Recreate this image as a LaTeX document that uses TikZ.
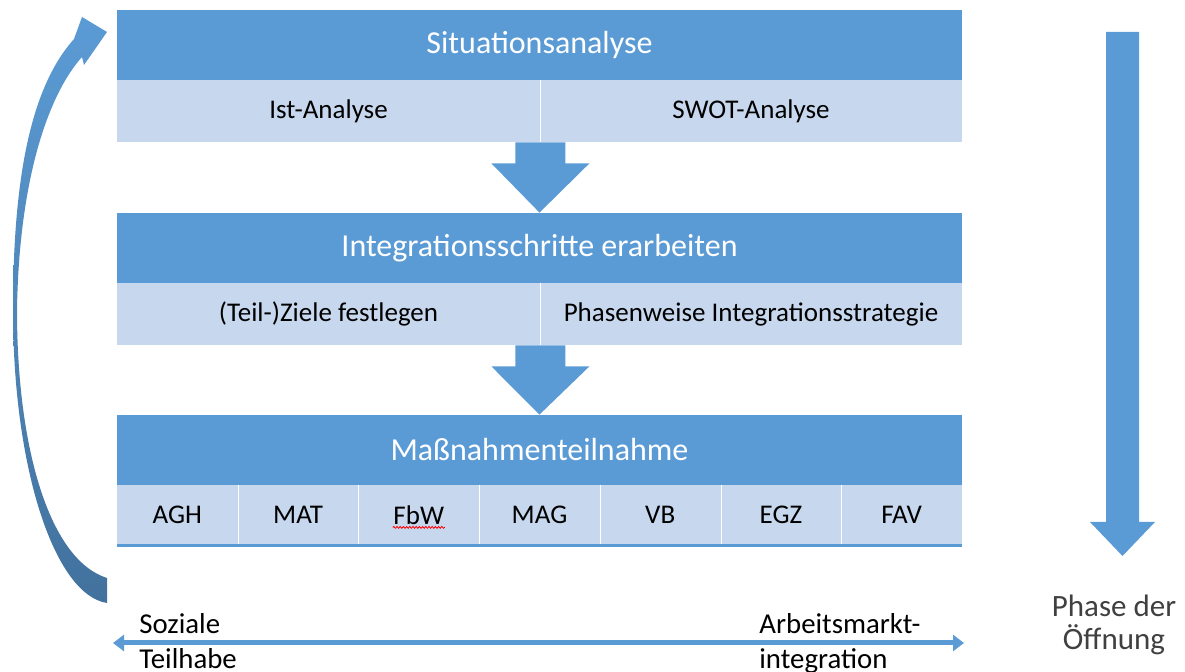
\documentclass[tikz,border=0pt]{standalone}
\usepackage{fontspec}
\setmainfont{Carlito}
\usepackage{xcolor}
\usetikzlibrary{arrows.meta,decorations.pathmorphing,calc}
\definecolor{blau}{RGB}{91,155,213}
\definecolor{hellblau}{RGB}{199,215,237}
\definecolor{dunkelblau}{RGB}{66,113,157}
\definecolor{grautext}{RGB}{64,64,64}
\tikzset{
  titel/.style={fill=blau, text=white, minimum width=422.5pt, minimum height=35pt,
    inner sep=0pt, font=\fontsize{16}{19}\selectfont},
  zelle/.style={fill=hellblau, minimum height=31pt, inner sep=0pt,
    font=\fontsize{13.5}{16}\selectfont},
  achse/.style={draw=blau, line width=2.5pt,
    {Triangle[length=5.5pt,width=8pt]}-{Triangle[length=5.5pt,width=8pt]}},
  randtext/.style={align=left, inner sep=0pt, anchor=north west,
    font=\fontsize{14.4}{17.5}\selectfont}
}
\newcommand{\blockpfeil}[2]{%
  \fill[blau] ([xshift=-12.5pt]#1) -- ([xshift=-12.5pt,yshift=-10.5pt]#1)
    -- ([xshift=-24.5pt,yshift=-10.5pt]#1) -- (#2)
    -- ([xshift=24.5pt,yshift=-10.5pt]#1) -- ([xshift=12.5pt,yshift=-10.5pt]#1)
    -- ([xshift=12.5pt]#1) -- cycle;}
\begin{document}
\begin{tikzpicture}[x=0.5pt,y=-0.5pt]
\useasboundingbox (0,0) rectangle (1185,672);

\node[titel] (s1) at (539.5,45) {Situationsanalyse};
\node[zelle, minimum width=211.5pt] (ist) at (328.5,111) {Ist-Analyse};
\node[zelle, minimum width=211pt] (swot) at (751,111) {SWOT-Analyse};
\draw[white] (ist.north east) -- (ist.south east);

\node[titel] (i1) at (539.5,248) {Integrationsschritte erarbeiten};
\node[zelle, minimum width=211.5pt] (ziele) at (328.5,314) {(Teil-)Ziele festlegen};
\node[zelle, minimum width=211pt] (phasen) at (751,314) {Phasenweise Integrationsstrategie};
\draw[white] (ziele.north east) -- (ziele.south east);

\node[titel] (m1) at (539.5,450) {Maßnahmenteilnahme};
\foreach \name [count=\i] in {AGH,MAT,FbW,MAG,VB,EGZ,FAV}
  \node[zelle, minimum width=60.36pt, minimum height=30pt] (m-\i) at ({117+120.714*(\i-0.5)},515) {\name};
\foreach \i in {1,...,6}
  \draw[white] (m-\i.north east) -- (m-\i.south east);
\draw[blau, line width=1.5pt] (m-1.south west) -- (m-7.south east);
\draw[red, line width=0.4pt, decorate, decoration={snake, amplitude=0.45pt, segment length=1.6pt}]
  ([xshift=-13pt,yshift=-6.2pt]m-3.center) -- ([xshift=13pt,yshift=-6.2pt]m-3.center);

\blockpfeil{ist.south east}{i1.north}
\blockpfeil{ziele.south east}{m1.north}

\shade[top color=blau, bottom color=dunkelblau]
  (107,603) .. controls (55,595) and (13,470) .. (13,310)
  .. controls (13,170) and (33,85) .. (74,39)
  -- (82,17) -- (107,32) -- (84,65) -- (82,57)
  .. controls (48,95) and (19,180) .. (17,310)
  .. controls (17,450) and (50,560) .. (107,578) -- cycle;

\fill[blau] (1106,32) -- (1139,32) -- (1139,522) -- (1155,522) -- (1122.5,556)
  -- (1090,522) -- (1106,522) -- cycle;

\coordinate (links) at (113,643);
\coordinate (rechts) at (964,643);
\draw[achse] (links) -- (rechts);
\node[randtext] (sozial) at (139,613) {Soziale\\Teilhabe};
\node[randtext] (arbeit) at (759,613) {Arbeitsmarkt-\\integration};
\node[align=center, inner sep=0pt, text=grautext, font=\fontsize{15.5}{16.5}\selectfont]
  (phase) at (1114,625) {Phase der\\Öffnung};
\end{tikzpicture}
\end{document}
